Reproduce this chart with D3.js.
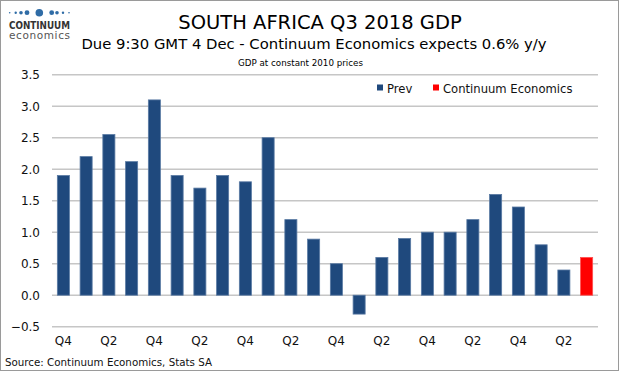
<!DOCTYPE html>
<html><head><meta charset="utf-8">
<script src="https://cdn.jsdelivr.net/npm/d3@7"></script>
<style>body{margin:0;background:#fff}svg{display:block}text{font-family:"DejaVu Sans",Verdana,sans-serif}</style>
</head><body>
<script>
const quarters = ["Q4 2012","Q1 2013","Q2 2013","Q3 2013","Q4 2013","Q1 2014","Q2 2014","Q3 2014","Q4 2014","Q1 2015","Q2 2015","Q3 2015","Q4 2015","Q1 2016","Q2 2016","Q3 2016","Q4 2016","Q1 2017","Q2 2017","Q3 2017","Q4 2017","Q1 2018","Q2 2018","Q3 2018"];
const prevValues = [1.9,2.2,2.55,2.12,3.1,1.9,1.7,1.9,1.8,2.5,1.2,0.89,0.5,-0.3,0.6,0.9,1.0,1.0,1.2,1.6,1.4,0.8,0.4,null];
const forecastValues = [null,null,null,null,null,null,null,null,null,null,null,null,null,null,null,null,null,null,null,null,null,null,null,0.6];
const yTicks = [-0.5,0,0.5,1,1.5,2,2.5,3,3.5];
const xTickLabels = ["Q4","Q2","Q4","Q2","Q4","Q2","Q4","Q2","Q4","Q2","Q4","Q2"];
const seriesNames = ["Prev","Continuum Economics"];
const seriesColors = ["#1f497d","#ff0000"];

const W=620,H=372;
const svg=d3.select("body").append("svg").attr("width",W).attr("height",H);
svg.append("rect").attr("x",0.5).attr("y",0.5).attr("width",618).attr("height",370).attr("fill","#fff").attr("stroke","#9a9a9a");

const x=d3.scaleBand().domain(quarters).range([52,598]).paddingInner(0.47).paddingOuter(0.235);
const y=d3.scaleLinear().domain([-0.5,3.5]).range([326.7,74.7]);

// grid
svg.append("g").selectAll("line").data(yTicks).join("line")
  .attr("x1",52).attr("x2",598).attr("y1",d=>y(d)).attr("y2",d=>y(d))
  .attr("stroke","#c6c6c6").attr("stroke-width",1.5);

// y axis labels
const yAxis=d3.axisLeft(y).tickValues(yTicks).tickFormat(d3.format(".1f")).tickSize(0).tickPadding(0);
const gy=svg.append("g").attr("transform","translate(40,0)").call(yAxis);
gy.select(".domain").remove();
gy.selectAll("text").attr("font-size",12).attr("fill","#111").attr("font-family","DejaVu Sans");

// x axis labels
const labelQs=quarters.filter((q,i)=>i%2===0);
const xAxis=d3.axisBottom(x).tickValues(labelQs).tickFormat((d,i)=>xTickLabels[i]).tickSize(0).tickPadding(0);
const gx=svg.append("g").attr("transform","translate(0,336)").call(xAxis);
gx.select(".domain").remove();
gx.selectAll("text").attr("font-size",12).attr("fill","#111").attr("font-family","DejaVu Sans");

// bars
const drawBars=(vals,color,stroke)=>{
  svg.append("g").selectAll("rect").data(quarters.map((q,i)=>({q,v:vals[i]})).filter(d=>d.v!==null)).join("rect")
    .attr("x",d=>x(d.q)).attr("width",x.bandwidth())
    .attr("y",d=>y(Math.max(0,d.v))).attr("height",d=>Math.abs(y(d.v)-y(0)))
    .attr("fill",color).attr("stroke",stroke).attr("stroke-width",0.8);
};
drawBars(prevValues,seriesColors[0],"#5a7aa3");
drawBars(forecastValues,seriesColors[1],"#ff5050");

// legend
const lg=svg.append("g");
const legX=[377,433];
seriesNames.forEach((n,i)=>{
  lg.append("rect").attr("x",legX[i]).attr("y",84.5).attr("width",6).attr("height",6).attr("fill",seriesColors[i]);
  lg.append("text").attr("x",legX[i]+10).attr("y",92.5).attr("font-size",11.6).attr("fill","#111").text(n);
});

// titles
svg.append("text").attr("x",320).attr("y",28.5).attr("text-anchor","middle").attr("font-size",19.5).attr("fill","#000").text("SOUTH AFRICA Q3 2018 GDP");
svg.append("text").attr("x",314).attr("y",48.5).attr("text-anchor","middle").attr("font-size",14.8).attr("fill","#000").text("Due 9:30 GMT 4 Dec - Continuum Economics expects 0.6% y/y");
svg.append("text").attr("x",300.5).attr("y",65.5).attr("text-anchor","middle").attr("font-size",9.5).attr("fill","#000").attr("textLength",125).attr("lengthAdjust","spacingAndGlyphs").text("GDP at constant 2010 prices");

// source
svg.append("text").attr("x",5).attr("y",366).attr("font-size",10.3).attr("fill","#111").text("Source: Continuum Economics, Stats SA");

// logo
const dotX=[9.7,15.7,21,27,39.3,51.7,57,63,69];
const dotR=[0.8,1.2,1.8,2.4,3.8,2.4,1.8,1.2,0.8];
svg.append("g").selectAll("circle").data(dotX).join("circle")
  .attr("cx",d=>d).attr("cy",12.7).attr("r",(d,i)=>dotR[i]).attr("fill","#2f6ca6");
svg.append("text").attr("x",9).attr("y",29.3).attr("font-size",11).attr("font-weight","bold").attr("fill","#333").attr("textLength",61).attr("lengthAdjust","spacingAndGlyphs").text("CONTINUUM");
svg.append("text").attr("x",9).attr("y",38.5).attr("font-size",10.5).attr("fill","#555").attr("textLength",61).attr("lengthAdjust","spacing").text("economics");
</script>
</body></html>
